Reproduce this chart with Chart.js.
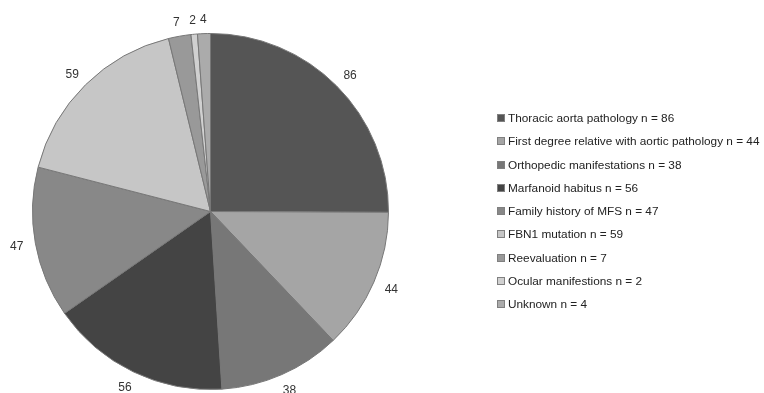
<!DOCTYPE html>
<html>
<head>
<meta charset="utf-8">
<script src="https://cdn.jsdelivr.net/npm/chart.js@4/dist/chart.umd.min.js"></script>
<style>
  html, body { margin: 0; padding: 0; background: #fff; }
  #wrap { position: relative; width: 764px; height: 393px; overflow: hidden; }
  #legend { position: absolute; left: 497px; top: 107px; font: 11.8px "Liberation Sans", sans-serif; color: #222; }
  #legend div { height: 23.3px; line-height: 23.3px; white-space: nowrap; }
  #legend span { display: inline-block; width: 6px; height: 6px; border: 1px solid #808080; margin-right: 3px; }
</style>
</head>
<body>
<div id="wrap">
  <canvas id="c" width="764" height="393"></canvas>
  <div id="legend"></div>
</div>
<script>
const labels = ['Thoracic aorta pathology', 'First degree relative with aortic pathology', 'Orthopedic manifestations',
  'Marfanoid habitus', 'Family history of MFS', 'FBN1 mutation', 'Reevaluation', 'Ocular manifestions', 'Unknown'];
const counts = [86, 44, 38, 56, 47, 59, 7, 2, 4];
const colors = ['#555555', '#a5a5a5', '#777777', '#444444', '#888888', '#c6c6c6', '#999999', '#d0d0d0', '#ababab'];

// legend
const legend = document.getElementById('legend');
labels.forEach((name, i) => {
  const row = document.createElement('div');
  row.innerHTML = '<span style="background:' + colors[i] + '"></span>' + name + ' n = ' + counts[i];
  legend.appendChild(row);
});

// value labels outside each slice
const outsideLabels = {
  id: 'outsideLabels',
  afterDatasetsDraw(chart) {
    const ctx = chart.ctx;
    const meta = chart.getDatasetMeta(0);
    ctx.save();
    ctx.font = '12px "Liberation Sans", sans-serif';
    ctx.fillStyle = '#333';
    ctx.textAlign = 'center';
    ctx.textBaseline = 'middle';
    meta.data.forEach((arc, i) => {
      const mid = (arc.startAngle + arc.endAngle) / 2;
      const dx = Math.cos(mid), dy = Math.sin(mid);
      const x = arc.x + dx * (arc.outerRadius + 19);
      const y = arc.y + dy * (arc.outerRadius + (dy < 0 ? 14 : 18));
      ctx.fillText(String(counts[i]), x, y);
    });
    ctx.restore();
  }
};

new Chart(document.getElementById('c'), {
  type: 'pie',
  data: {
    labels: labels,
    datasets: [{
      data: counts,
      backgroundColor: colors,
      borderColor: '#777777',
      borderWidth: 1
    }]
  },
  options: {
    responsive: false,
    animation: false,
    layout: { padding: { left: 32, right: 375, top: 33, bottom: 3 } },
    plugins: {
      legend: { display: false },
      tooltip: { enabled: false }
    }
  },
  plugins: [outsideLabels]
});
</script>
</body>
</html>
